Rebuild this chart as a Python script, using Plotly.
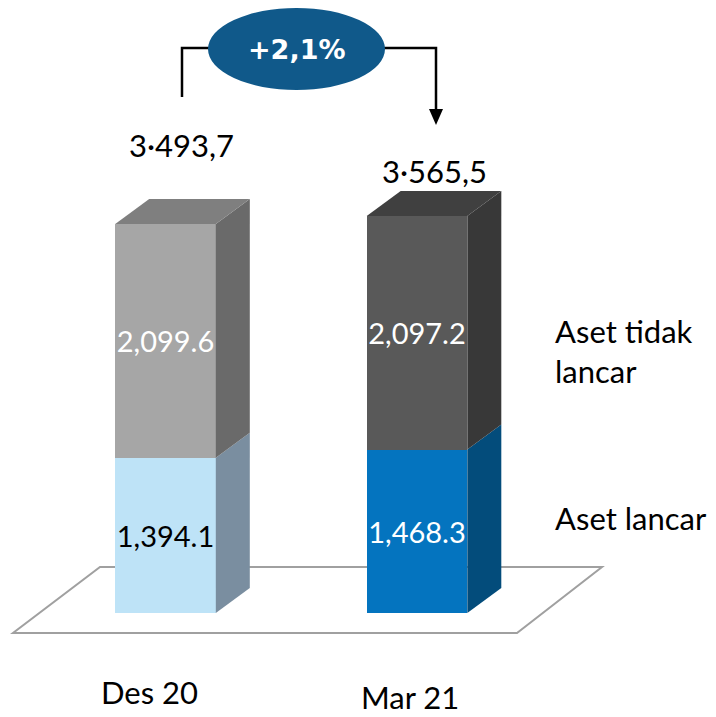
import plotly.graph_objects as go

# ---------------- data ----------------
categories = ["Des 20", "Mar 21"]
aset_lancar = [1394.1, 1468.3]
aset_tidak_lancar = [2099.6, 2097.2]
total_labels = ["3·493,7", "3·565,5"]
growth_label = "+2,1%"
series_names = ["Aset lancar", "Aset tidak lancar"]

# ---------------- geometry / style ----------------
W, H = 716, 717
PX_PER_UNIT = 0.11134      # vertical pixels per value unit
BASE_PX = 613              # pixel row of value 0
X0_PX = 165.5              # pixel column of first category
X_STEP_PX = 251.5          # pixels between categories
BAR_W = 0.4
DX = 34 / X_STEP_PX        # 3D depth (x)
DY = 25 / PX_PER_UNIT      # 3D depth (y)

front_lancar = ["#BEE3F7", "#0474BF"]
side_lancar = ["#7A8EA0", "#034C7B"]
front_tidak = ["#A6A6A6", "#595959"]
side_tidak = ["#6A6A6A", "#383838"]
top_tidak = ["#7F7F7F", "#404040"]
lancar_text_col = ["#000000", "#FFFFFF"]
total_yshift = [79, 45]
total_xshift = [16, 17]
cat_label_py = [692, 697]
cat_label_xshift = [-16, -7]

FONT = "Lato"

xs = list(range(len(categories)))
y_range = [-(H - BASE_PX) / PX_PER_UNIT, BASE_PX / PX_PER_UNIT]
x_range = [-X0_PX / X_STEP_PX, (W - X0_PX) / X_STEP_PX]


def px(x):
    return x / W


def py(y):
    return 1 - y / H


fig = go.Figure()

fig.add_bar(
    x=xs, y=aset_lancar, width=BAR_W, name=series_names[0],
    marker=dict(color=front_lancar, line=dict(width=0)),
    text=[f"{v:,.1f}" for v in aset_lancar],
    textposition="inside", insidetextanchor="middle", textangle=0,
    constraintext="none",
    textfont=dict(family=FONT, size=29, color=lancar_text_col),
    hoverinfo="skip",
)
fig.add_bar(
    x=xs, y=aset_tidak_lancar, width=BAR_W, name=series_names[1],
    marker=dict(color=front_tidak, line=dict(width=0)),
    text=[f"{v:,.1f}" for v in aset_tidak_lancar],
    textposition="inside", insidetextanchor="middle", textangle=0,
    constraintext="none",
    textfont=dict(family=FONT, size=29, color="#FFFFFF"),
    hoverinfo="skip",
)

shapes = []

# floor (decorative)
floor = [(100, 567), (602, 567), (517, 633), (13, 633)]
shapes.append(dict(
    type="path", xref="paper", yref="paper", layer="below",
    path="M " + " L ".join(f"{px(a)},{py(b)}" for a, b in floor) + " Z",
    fillcolor="#FFFFFF", line=dict(color="#A0A0A0", width=2),
))

# 3D sides and tops computed from data
for i in xs:
    l = aset_lancar[i]
    t = aset_lancar[i] + aset_tidak_lancar[i]
    xl = i - BAR_W / 2
    xr = i + BAR_W / 2
    polys = [
        ([(xr, 0), (xr + DX, DY), (xr + DX, l + DY), (xr, l)], side_lancar[i]),
        ([(xr, l), (xr + DX, l + DY), (xr + DX, t + DY), (xr, t)], side_tidak[i]),
        ([(xl, t), (xl + DX, t + DY), (xr + DX, t + DY), (xr, t)], top_tidak[i]),
    ]
    for pts, col in polys:
        shapes.append(dict(
            type="path", xref="x", yref="y",
            path="M " + " L ".join(f"{a},{b}" for a, b in pts) + " Z",
            fillcolor=col, line=dict(width=0),
        ))

# connector lines + arrow + ellipse
shapes.append(dict(
    type="path", xref="paper", yref="paper",
    path=f"M {px(182)},{py(97)} L {px(182)},{py(48)} L {px(215)},{py(48)}",
    line=dict(color="#000000", width=2.5),
))
shapes.append(dict(
    type="path", xref="paper", yref="paper",
    path=f"M {px(378)},{py(48)} L {px(436)},{py(48)} L {px(436)},{py(112)}",
    line=dict(color="#000000", width=2.5),
))
shapes.append(dict(
    type="path", xref="paper", yref="paper",
    path=f"M {px(429)},{py(109)} L {px(443)},{py(109)} L {px(436)},{py(125)} Z",
    fillcolor="#000000", line=dict(width=0),
))
shapes.append(dict(
    type="circle", xref="paper", yref="paper",
    x0=px(208), x1=px(385), y0=py(90), y1=py(8),
    fillcolor="#10598A", line=dict(width=0),
))

annotations = []
annotations.append(dict(
    x=px(296.5), y=py(49.5), xref="paper", yref="paper", text=f"<b>{growth_label}</b>",
    showarrow=False, font=dict(family="DejaVu Sans", size=27, color="#FFFFFF"),
    xanchor="center", yanchor="middle",
))
for i in xs:
    annotations.append(dict(
        x=i, y=aset_lancar[i] + aset_tidak_lancar[i], xref="x", yref="y",
        text=total_labels[i], showarrow=False,
        xanchor="center", yanchor="middle",
        xshift=total_xshift[i], yshift=total_yshift[i],
        font=dict(family=FONT, size=31, color="#000000"),
    ))
    annotations.append(dict(
        x=i, y=py(cat_label_py[i]), xref="x", yref="paper",
        text=categories[i], showarrow=False,
        xanchor="center", yanchor="middle", xshift=cat_label_xshift[i],
        font=dict(family=FONT, size=31, color="#000000"),
    ))

name_tidak = series_names[1].rsplit(" ", 1)
annotations.append(dict(
    x=px(553), y=py(351), xref="paper", yref="paper",
    text=name_tidak[0] + "<br>" + name_tidak[1], showarrow=False,
    xanchor="left", yanchor="middle", align="left",
    font=dict(family=FONT, size=31, color="#000000"),
))
annotations.append(dict(
    x=px(553), y=py(518), xref="paper", yref="paper",
    text=series_names[0], showarrow=False,
    xanchor="left", yanchor="middle", align="left",
    font=dict(family=FONT, size=31, color="#000000"),
))

fig.update_layout(
    width=W, height=H, margin=dict(l=0, r=0, t=0, b=0),
    barmode="stack", showlegend=False,
    paper_bgcolor="#FFFFFF", plot_bgcolor="#FFFFFF",
    xaxis=dict(range=x_range, visible=False, fixedrange=True),
    yaxis=dict(range=y_range, visible=False, fixedrange=True),
    shapes=shapes, annotations=annotations,
)

fig.write_html(
    "out.html",
    config={"displayModeBar": False, "staticPlot": True},
    post_script="document.body.style.margin='0';document.body.style.overflow='hidden';",
)
